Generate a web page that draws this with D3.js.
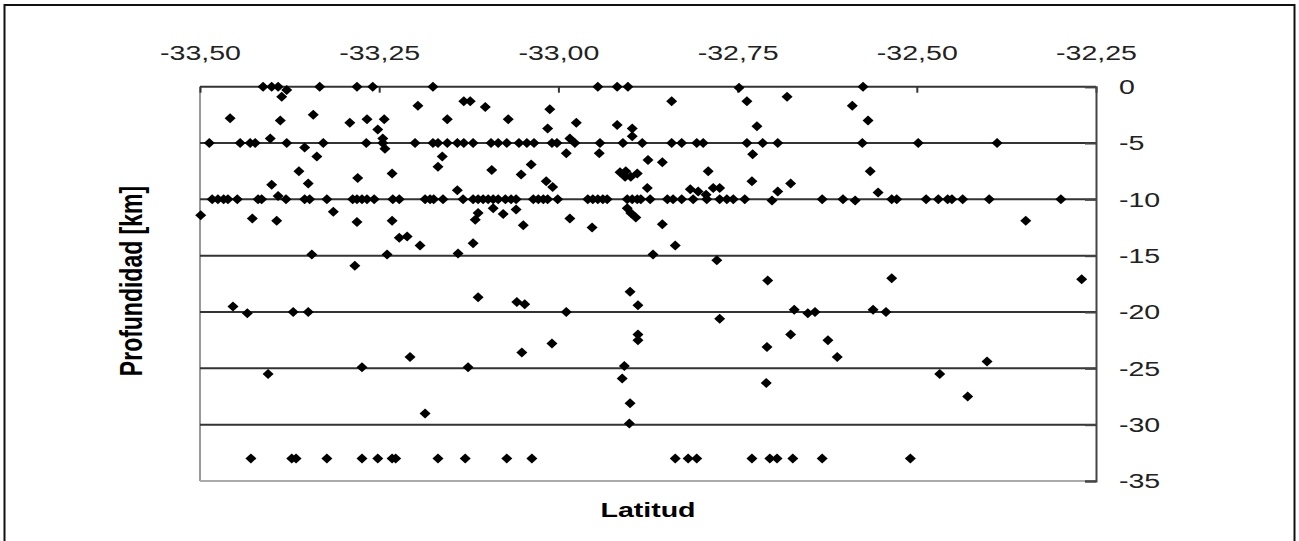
<!DOCTYPE html>
<meta charset="utf-8">
<style>
  body { margin: 0; background: #fff; }
  text { font-family: "Liberation Sans", Arial, sans-serif; }
</style>
<body></body>
<script src="https://cdn.jsdelivr.net/npm/d3@7"></script>
<script>
  // ticks
  const latTicks = [-33.5, -33.25, -33.0, -32.75, -32.5, -32.25]
  const profTicks = [0, -5, -10, -15, -20, -25, -30, -35]

  // sismos [latitud, profundidad], grouped by band
  const superficiales = [
    [-33.412, 0], [-33.400, 0], [-33.391, 0], [-33.379, -0.3], [-33.333, 0], [-33.281, 0],
    [-33.259, 0], [-33.175, 0], [-32.945, 0], [-32.918, 0], [-32.903, 0], [-32.748, -0.1],
    [-32.575, 0], [-33.386, -0.9], [-33.458, -2.8], [-33.388, -3.0], [-33.342, -2.5],
    [-33.291, -3.2], [-33.267, -2.9], [-33.243, -2.9], [-33.252, -3.8], [-33.245, -4.6],
    [-33.242, -5.5], [-33.402, -4.6], [-33.196, -1.7], [-33.155, -2.9], [-33.132, -1.3],
    [-33.123, -1.3], [-33.102, -1.8], [-33.070, -2.9], [-33.012, -2.0], [-33.015, -3.7],
    [-32.975, -3.2], [-32.918, -3.4], [-32.897, -3.7], [-32.897, -4.4], [-32.842, -1.3],
    [-32.737, -1.3], [-32.681, -0.9], [-32.723, -3.5], [-32.590, -1.7], [-32.568, -3.0],
    [-32.984, -4.6]
  ]

  const fila5 = [
    [-33.487, -5], [-33.444, -5], [-33.430, -5], [-33.423, -5], [-33.379, -5], [-33.328, -5],
    [-33.268, -5], [-33.245, -5], [-33.200, -5], [-33.175, -5], [-33.168, -5], [-33.155, -5],
    [-33.141, -5], [-33.132, -5], [-33.119, -5], [-33.094, -5], [-33.084, -5], [-33.072, -5],
    [-33.055, -5], [-33.044, -5], [-33.034, -5], [-33.009, -5], [-33.002, -5], [-32.977, -5],
    [-32.942, -5], [-32.910, -5], [-32.883, -5], [-32.842, -5], [-32.828, -5], [-32.807, -5],
    [-32.798, -5], [-32.737, -5], [-32.715, -5], [-32.694, -5], [-32.576, -5], [-32.498, -5],
    [-32.388, -5]
  ]

  const entre5y10 = [
    [-33.354, -5.4], [-33.337, -6.2], [-33.362, -7.5], [-33.400, -8.7], [-33.349, -8.6],
    [-33.280, -8.1], [-33.232, -7.7], [-33.162, -6.2], [-33.168, -7.1], [-33.093, -7.4],
    [-33.052, -7.8], [-33.038, -6.9], [-33.017, -8.4], [-33.008, -8.9], [-33.141, -9.2],
    [-33.391, -9.7], [-32.989, -5.9], [-32.943, -5.9], [-32.875, -6.5], [-32.855, -6.7],
    [-32.914, -7.6], [-32.906, -7.5], [-32.899, -8.0], [-32.890, -7.7], [-32.907, -8.0],
    [-32.791, -7.5], [-32.876, -9.0], [-32.816, -9.1], [-32.805, -9.3], [-32.794, -9.6],
    [-32.784, -9.0], [-32.775, -9.0], [-32.729, -6.0], [-32.730, -8.4], [-32.676, -8.6],
    [-32.694, -9.3], [-32.565, -7.5], [-32.554, -9.4]
  ]

  const fila10 = [
    [-33.483, -10], [-33.475, -10], [-33.467, -10], [-33.461, -10], [-33.448, -10], [-33.419, -10],
    [-33.414, -10], [-33.380, -10], [-33.354, -10], [-33.347, -10], [-33.323, -10], [-33.287, -10],
    [-33.281, -10], [-33.274, -10], [-33.267, -10], [-33.257, -10], [-33.231, -10], [-33.222, -10],
    [-33.186, -10], [-33.179, -10], [-33.174, -10], [-33.161, -10], [-33.133, -10], [-33.119, -10],
    [-33.112, -10], [-33.105, -10], [-33.098, -10], [-33.091, -10], [-33.084, -10], [-33.074, -10],
    [-33.066, -10], [-33.059, -10], [-33.035, -10], [-33.028, -10], [-33.021, -10], [-33.015, -10],
    [-33.001, -10], [-32.959, -10], [-32.952, -10], [-32.945, -10], [-32.938, -10], [-32.932, -10],
    [-32.904, -10], [-32.897, -10], [-32.890, -10], [-32.885, -10], [-32.872, -10], [-32.848, -10],
    [-32.840, -10], [-32.828, -10], [-32.812, -10], [-32.793, -10], [-32.775, -10], [-32.765, -10],
    [-32.756, -10], [-32.740, -10], [-32.702, -10.1], [-32.632, -10], [-32.603, -10], [-32.586, -10.1],
    [-32.535, -10], [-32.528, -10], [-32.487, -10], [-32.470, -10], [-32.457, -10], [-32.451, -10],
    [-32.436, -10], [-32.399, -10], [-32.299, -10]
  ]

  const entre10y15 = [
    [-33.499, -11.4], [-33.427, -11.7], [-33.393, -11.9], [-33.314, -11.1], [-33.281, -12.0],
    [-33.232, -11.9], [-33.222, -13.4], [-33.211, -13.3], [-33.193, -14.1], [-33.119, -13.9],
    [-33.112, -11.2], [-33.116, -11.8], [-33.091, -10.8], [-33.077, -11.3], [-33.059, -10.9],
    [-33.049, -12.3], [-32.984, -11.7], [-32.953, -12.5], [-32.904, -10.8], [-32.899, -11.2],
    [-32.892, -11.6], [-32.855, -12.2], [-32.837, -14.1], [-32.348, -11.9],
    [-33.344, -14.9], [-33.239, -14.9], [-33.140, -14.8], [-32.868, -14.9], [-33.284, -15.9],
    [-32.779, -15.4]
  ]

  const profundos = [
    [-32.708, -17.2], [-32.535, -17.0], [-32.270, -17.1], [-32.900, -18.2], [-32.889, -19.4],
    [-33.112, -18.7], [-33.058, -19.1], [-33.047, -19.3], [-33.454, -19.5], [-33.434, -20.1],
    [-33.370, -20.0], [-33.349, -20.0], [-32.989, -20.0], [-32.775, -20.6], [-32.671, -19.8],
    [-32.652, -20.1], [-32.642, -20.0], [-32.561, -19.8], [-32.543, -20.0], [-32.889, -22.0],
    [-32.889, -22.5], [-33.009, -22.8], [-33.051, -23.6], [-32.709, -23.1], [-32.676, -22.0],
    [-32.624, -22.5], [-32.611, -24.0], [-33.207, -24.0], [-33.274, -24.9], [-33.126, -24.9],
    [-32.908, -24.8], [-32.911, -25.9], [-33.405, -25.5], [-32.710, -26.3], [-32.900, -28.1],
    [-32.901, -29.9], [-33.186, -29.0], [-32.402, -24.4], [-32.468, -25.5], [-32.429, -27.5]
  ]

  const fila33 = [
    [-33.429, -33], [-33.372, -33], [-33.366, -33], [-33.323, -33], [-33.274, -33], [-33.252, -33],
    [-33.232, -33], [-33.227, -33], [-33.168, -33], [-33.130, -33], [-33.072, -33], [-33.037, -33],
    [-32.837, -33], [-32.819, -33], [-32.807, -33], [-32.730, -33], [-32.705, -33], [-32.695, -33],
    [-32.673, -33], [-32.632, -33], [-32.509, -33]
  ]

  const sismos = [].concat(superficiales, fila5, entre5y10, fila10, entre10y15, profundos, fila33)

  const W = 1299
  const H = 541
  const plot = { left: 200, right: 1096, top: 86.7, bottom: 481 }
  const sx = 1.36 // the reference is stretched sideways

  const svg = d3.select('body').append('svg')
    .attr('width', W)
    .attr('height', H)

  // outer frame
  svg.append('rect')
    .attr('x', 4.5).attr('y', 5)
    .attr('width', 1290).attr('height', 545)
    .attr('fill', '#fff')
    .attr('stroke', '#111')
    .attr('stroke-width', 2)

  const x = d3.scaleLinear().domain([-33.5, -32.25]).range([plot.left, plot.right])
  const y = d3.scaleLinear().domain([0, -35]).range([plot.top, plot.bottom])

  // left and bottom edges (light)
  svg.append('line')
    .attr('x1', plot.left).attr('x2', plot.left)
    .attr('y1', plot.top).attr('y2', plot.bottom)
    .attr('stroke', '#999').attr('stroke-width', 2)
  svg.append('line')
    .attr('x1', plot.left).attr('x2', plot.right)
    .attr('y1', plot.bottom).attr('y2', plot.bottom)
    .attr('stroke', '#aaa').attr('stroke-width', 2)

  // gridlines
  svg.append('g')
    .selectAll('line')
    .data(profTicks.filter(d => d > -35))
    .enter().append('line')
    .attr('x1', plot.left).attr('x2', plot.right)
    .attr('y1', d => y(d)).attr('y2', d => y(d))
    .attr('stroke', '#333')
    .attr('stroke-width', 2)

  // top axis
  const xAxis = d3.axisTop(x)
    .tickValues(latTicks)
    .tickSize(-6)
    .tickPadding(27)
    .tickFormat(d => d.toFixed(2).replace('.', ','))
  const gx = svg.append('g')
    .attr('transform', `translate(0,${plot.top})`)
    .call(xAxis)
  gx.select('.domain').remove()
  gx.selectAll('line').attr('stroke', '#333').attr('stroke-width', 2)
  gx.selectAll('text')
    .attr('font-size', 21)
    .attr('fill', '#222')
    .attr('font-family', '"Liberation Sans", Arial, sans-serif')
    .attr('transform', `scale(${sx},1)`)

  // right axis
  const yAxis = d3.axisRight(y)
    .tickValues(profTicks)
    .tickSize(-11)
    .tickFormat(d => String(d))
  const gy = svg.append('g')
    .attr('transform', `translate(${plot.right},0)`)
    .call(yAxis)
  gy.select('.domain').attr('stroke', '#444').attr('stroke-width', 2)
  gy.selectAll('line').attr('stroke', '#444').attr('stroke-width', 2)
  gy.selectAll('text')
    .attr('font-size', 21)
    .attr('fill', '#222')
    .attr('font-family', '"Liberation Sans", Arial, sans-serif')
    .attr('x', 23 / sx)
    .attr('transform', `scale(${sx},1)`)

  // diamonds
  const diamond = 'M0,-5L5.5,0L0,5L-5.5,0Z'
  svg.append('g')
    .selectAll('path')
    .data(sismos)
    .enter().append('path')
    .attr('d', diamond)
    .attr('transform', d => `translate(${x(d[0])},${y(d[1])})`)
    .attr('fill', '#000')

  // axis titles
  svg.append('text')
    .attr('transform', `translate(${(plot.left + plot.right) / 2},517) scale(${sx},1)`)
    .attr('text-anchor', 'middle')
    .attr('font-size', 21)
    .attr('font-weight', 'bold')
    .text('Latitud')

  svg.append('text')
    .attr('transform', `translate(142,281) scale(${sx},1) rotate(-90)`)
    .attr('text-anchor', 'middle')
    .attr('font-size', 23)
    .attr('font-weight', 'bold')
    .text('Profundidad [km]')
</script>
